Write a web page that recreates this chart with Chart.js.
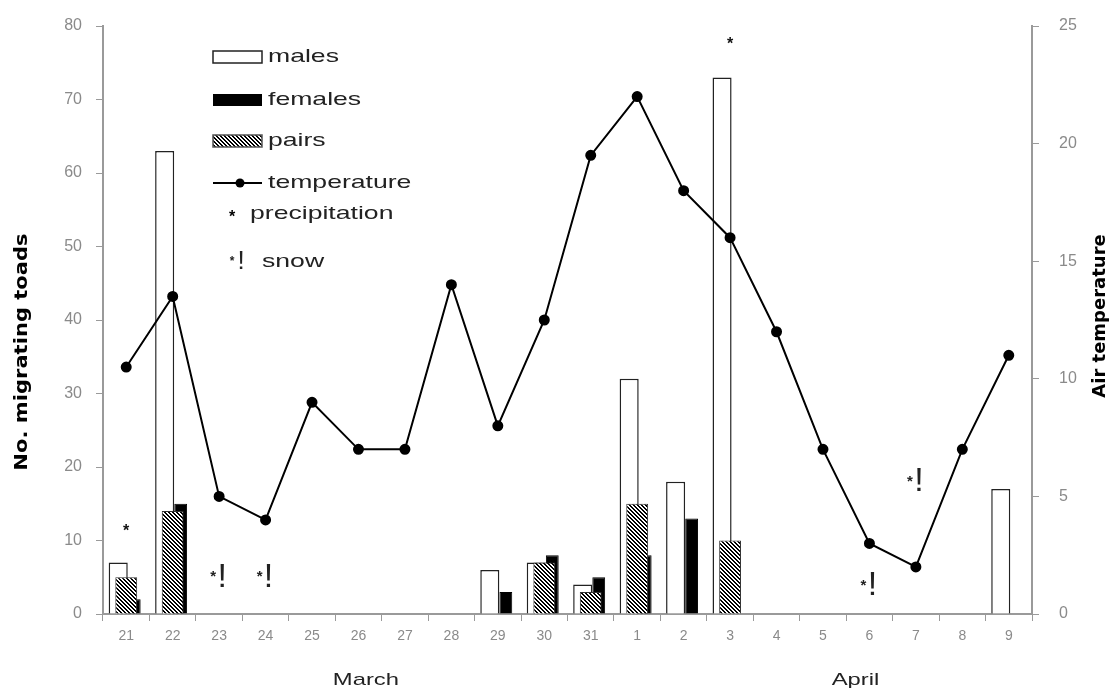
<!DOCTYPE html>
<html>
<head>
<meta charset="utf-8">
<script src="https://cdn.jsdelivr.net/npm/chart.js@4.4.1/dist/chart.umd.min.js"></script>
<style>
    html, body { margin: 0; padding: 0; background: #fff; }
    #chart { display: block; }
</style>
</head>
<body>
<canvas id="chart" width="1116" height="690"></canvas>
<script>
// Días de observación (21 de marzo - 9 de abril)
const dias = ['21', '22', '23', '24', '25', '26', '27', '28', '29', '30', '31', '1', '2', '3', '4', '5', '6', '7', '8', '9'];

// Sapos migrando por día
const machos  = [7, 63, 0, 0, 0, 0, 0, 0, 6, 7, 4, 32, 18, 73, 0, 0, 0, 0, 0, 17];
const hembras = [2, 15, 0, 0, 0, 0, 0, 0, 3, 8, 5, 8, 13, 0, 0, 0, 0, 0, 0, 0];
const parejas = [5, 14, 0, 0, 0, 0, 0, 0, 0, 7, 3, 15, 0, 10, 0, 0, 0, 0, 0, 0];

// Temperatura del aire (eje derecho)
const temperatura = [10.5, 13.5, 5, 4, 9, 7, 7, 14, 8, 12.5, 19.5, 22, 18, 16, 12, 7, 3, 2, 7, 11];

// Marcas de precipitación y nieve (día y altura en la escala de sapos)
const diasLluvia = ['21', '3'];
const alturaLluvia = [11.7, 78];
const diasNieve = ['23', '24', '6', '7'];
const alturaNieve = [5, 5, 3.8, 18];

// Etiquetas de los meses (posición en índice de categoría)
const meses = ['March', 'April'];
const posMeses = [5.16, 15.7];

// Ticks de los ejes
const maxSapos = 80, pasoSapos = 10;
const maxTemp = 25, pasoTemp = 5;

const grisEje = '#9a9a9a';
const grisTexto = '#8a8a8a';

document.addEventListener('DOMContentLoaded', function() {
    const chartElement = document.getElementById('chart');
    if (!chartElement) {
        console.error('Error: no se encontró el canvas');
        return;
    }
    const ctx = chartElement.getContext('2d');

    // Trama rayada para las parejas
    function crearTrama() {
        const c = document.createElement('canvas');
        c.width = 4;
        c.height = 4;
        const g = c.getContext('2d');
        g.fillStyle = '#fff';
        g.fillRect(0, 0, 4, 4);
        g.fillStyle = '#000';
        for (let i = 0; i < 4; i++) {
            g.fillRect(i, i, 1, 1);
            g.fillRect((i + 1) % 4, i, 1, 1);
        }
        return g.createPattern(c, 'repeat');
    }
    const trama = crearTrama();

    // Los ceros no se dibujan
    const sinCeros = arr => arr.map(v => (v === 0 ? null : v));

    // Texto estirado en horizontal
    function texto(c, str, x, y, escala) {
        c.save();
        c.translate(x, y);
        c.scale(escala, 1);
        c.fillText(str, 0, 0);
        c.restore();
    }

    function nieve(c, x, y, tam) {
        c.save();
        c.fillStyle = '#222';
        c.textBaseline = 'middle';
        c.textAlign = 'center';
        c.font = 'bold ' + Math.round(tam * 0.45) + 'px "Liberation Sans"';
        c.fillText('*', x - 6, y);
        c.font = tam + 'px "Liberation Sans"';
        c.fillText('!', x + 3, y);
        c.restore();
    }

    // Ejes verticales sin relleno extra arriba
    const ajustarY = ancho => s => {
        s.width = ancho;
        s.paddingTop = 0;
        s.paddingBottom = 0;
    };

    const extras = {
        id: 'extras',
        afterDatasetsDraw(chart) {
            const c = chart.ctx;
            const xs = chart.scales.x, ys = chart.scales.y;
            c.save();
            c.fillStyle = '#111';
            c.textAlign = 'center';
            c.textBaseline = 'middle';
            c.font = 'bold 16px "Liberation Sans"';
            diasLluvia.forEach((d, i) => {
                c.fillText('*', xs.getPixelForValue(dias.indexOf(d)), ys.getPixelForValue(alturaLluvia[i]) + 4);
            });
            c.restore();
            diasNieve.forEach((d, i) => {
                nieve(c, xs.getPixelForValue(dias.indexOf(d)), ys.getPixelForValue(alturaNieve[i]), 34);
            });
        },
        afterDraw(chart) {
            const c = chart.ctx;
            const xs = chart.scales.x;
            const area = chart.chartArea;
            c.save();

            // Títulos de los ejes
            c.fillStyle = '#000';
            c.font = 'bold 18px "DejaVu Sans"';
            c.textAlign = 'center';
            c.textBaseline = 'middle';
            c.save();
            c.translate(22, 352);
            c.rotate(-Math.PI / 2);
            c.scale(1.17, 1);
            c.fillText('No. migrating toads', 0, 0);
            c.restore();
            c.save();
            c.translate(1100, 316);
            c.rotate(-Math.PI / 2);
            c.fillText('Air temperature', 0, 0);
            c.restore();

            // Meses bajo el eje x
            c.font = '17px "Liberation Sans"';
            c.fillStyle = '#222';
            meses.forEach((m, i) => {
                texto(c, m, xs.getPixelForValue(posMeses[i]), area.bottom + 66, 1.4);
            });

            // Leyenda
            const lx = 213, bw = 49, bh = 12;
            const filas = [57, 100, 141, 183, 214, 262];
            c.lineWidth = 1.5;
            c.fillStyle = '#fff';
            c.strokeStyle = '#222';
            c.fillRect(lx, filas[0] - bh / 2, bw, bh);
            c.strokeRect(lx, filas[0] - bh / 2, bw, bh);
            c.fillStyle = '#000';
            c.fillRect(lx, filas[1] - bh / 2, bw, bh);
            c.fillStyle = trama;
            c.fillRect(lx, filas[2] - bh / 2, bw, bh);
            c.strokeStyle = '#555';
            c.strokeRect(lx, filas[2] - bh / 2, bw, bh);
            c.strokeStyle = '#000';
            c.lineWidth = 2;
            c.beginPath();
            c.moveTo(lx, filas[3]);
            c.lineTo(lx + bw, filas[3]);
            c.stroke();
            c.fillStyle = '#000';
            c.beginPath();
            c.arc(lx + 27, filas[3], 4.5, 0, Math.PI * 2);
            c.fill();
            c.font = 'bold 16px "Liberation Sans"';
            c.textAlign = 'center';
            c.fillText('*', 232, filas[4] + 4);
            nieve(c, 238, filas[5], 26);

            c.fillStyle = '#222';
            c.textAlign = 'left';
            c.textBaseline = 'middle';
            c.font = '19px "Liberation Sans"';
            const nombres = ['males', 'females', 'pairs', 'temperature', 'precipitation', 'snow'];
            const xText = [268, 268, 268, 268, 250, 262];
            nombres.forEach((n, i) => texto(c, n, xText[i], filas[i], 1.4));
            c.restore();
        }
    };

    window.myChart = new Chart(ctx, {
        type: 'bar',
        data: {
            labels: dias,
            datasets: [
                {
                    label: 'pairs',
                    data: sinCeros(parejas),
                    backgroundColor: trama,
                    borderColor: '#333',
                    borderWidth: 1,
                    grouped: false,
                    categoryPercentage: 1,
                    barPercentage: 0.47,
                    yAxisID: 'y'
                },
                {
                    label: 'males',
                    data: sinCeros(machos),
                    backgroundColor: '#fff',
                    borderColor: '#222',
                    borderWidth: 1.5,
                    categoryPercentage: 0.69,
                    barPercentage: 1.19,
                    yAxisID: 'y'
                },
                {
                    label: 'females',
                    data: sinCeros(hembras),
                    backgroundColor: '#000',
                    borderColor: '#000',
                    borderWidth: 1,
                    categoryPercentage: 0.69,
                    barPercentage: 0.8,
                    yAxisID: 'y'
                },
                {
                    type: 'line',
                    label: 'temperature',
                    data: temperatura,
                    yAxisID: 'y1',
                    borderColor: '#000',
                    borderWidth: 2,
                    pointRadius: 4.5,
                    pointBackgroundColor: '#000',
                    pointBorderColor: '#000',
                    tension: 0,
                    order: -1
                }
            ]
        },
        options: {
            responsive: false,
            animation: false,
            devicePixelRatio: 1,
            layout: { padding: { top: 26, left: 0, right: 0, bottom: 0 } },
            plugins: {
                legend: { display: false },
                tooltip: { enabled: false }
            },
            scales: {
                x: {
                    offset: true,
                    grid: { drawOnChartArea: false, tickLength: 7, color: grisEje, offset: true },
                    border: { color: grisEje, width: 2 },
                    ticks: {
                        color: grisTexto,
                        font: { family: 'Liberation Sans', size: 14 },
                        padding: 7,
                        maxRotation: 0,
                        autoSkip: false
                    },
                    afterFit: s => { s.height = 76; }
                },
                y: {
                    position: 'left',
                    min: 0,
                    max: maxSapos,
                    grid: { drawOnChartArea: false, tickLength: 7, color: grisEje },
                    border: { color: grisEje, width: 2 },
                    ticks: {
                        stepSize: pasoSapos,
                        color: grisTexto,
                        font: { family: 'Liberation Sans', size: 16 },
                        padding: 14
                    },
                    afterFit: ajustarY(103)
                },
                y1: {
                    position: 'right',
                    min: 0,
                    max: maxTemp,
                    grid: { drawOnChartArea: false, tickLength: 7, color: grisEje },
                    border: { color: grisEje, width: 2 },
                    ticks: {
                        stepSize: pasoTemp,
                        color: grisTexto,
                        font: { family: 'Liberation Sans', size: 16 },
                        padding: 20
                    },
                    afterFit: ajustarY(84)
                }
            }
        },
        plugins: [extras]
    });

    console.log('Gráfico creado');
});
</script>
</body>
</html>
